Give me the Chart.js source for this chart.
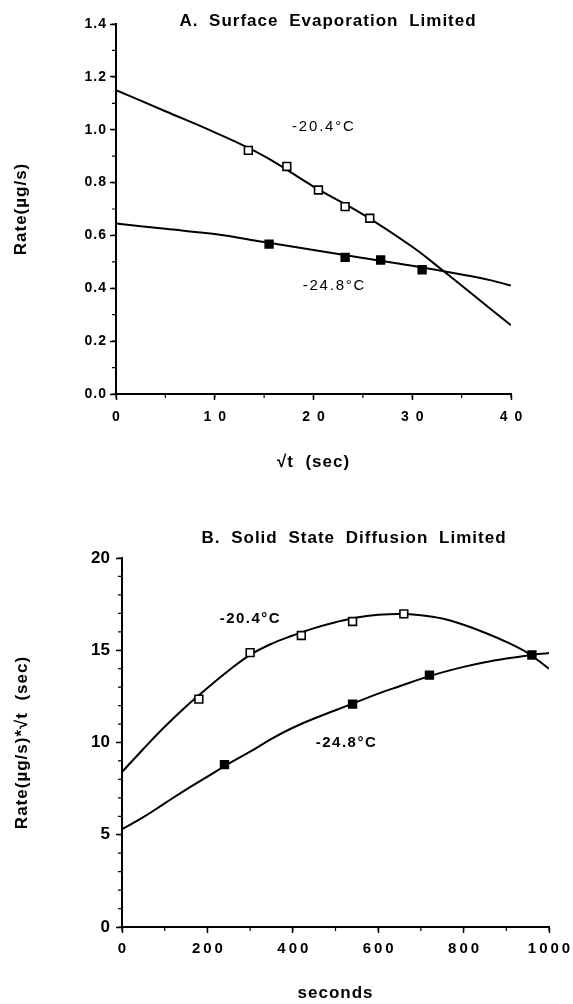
<!DOCTYPE html>
<html>
<head>
<meta charset="utf-8">
<title>Surface evaporation / solid state diffusion</title>
<script src="https://cdn.jsdelivr.net/npm/chart.js@4.4.1/dist/chart.umd.min.js"></script>
<style>
  body { margin: 0; background: #fff; }
  canvas { display: block; }
</style>
</head>
<body>
<canvas id="chartA" width="573" height="480"></canvas>
<canvas id="chartB" width="573" height="524"></canvas>
<script>
// ---- A. rate vs sqrt(t) ----
const sqrtT_warm = [13.4, 17.3, 20.5, 23.2, 25.7];
const rate_warm = [0.922, 0.861, 0.772, 0.709, 0.665];
const sqrtT_cold = [15.5, 23.2, 26.8, 31.0];
const rate_cold = [0.567, 0.517, 0.507, 0.470];

// fitted curves
const fitA_warm_x = [0, 5, 10, 15, 20, 25, 30, 33, 36, 40];
const fitA_warm_y = [1.15, 1.07, 0.99, 0.90, 0.785, 0.68, 0.557, 0.47, 0.38, 0.26];
const fitA_cold_x = [0, 5, 10, 15, 20, 25, 30, 35, 38, 40];
const fitA_cold_y = [0.645, 0.625, 0.605, 0.575, 0.545, 0.515, 0.485, 0.452, 0.43, 0.41];

// ---- B. rate*sqrt(t) vs t ----
const t_warm = [180, 300, 420, 540, 660];
const rateSqrt_warm = [12.35, 14.87, 15.8, 16.56, 16.97];
const t_cold = [240, 540, 720, 960];
const rateSqrt_cold = [8.8, 12.08, 13.65, 14.74];

const fitB_x = [0, 50, 100, 150, 200, 250, 300, 350, 400, 450, 500, 550, 600, 650, 700, 750, 800, 850, 900, 950, 1000];
const fitB_warm_y = [8.4, 9.65, 10.85, 11.95, 12.95, 13.9, 14.75, 15.35, 15.8, 16.2, 16.52, 16.78, 16.92, 16.97, 16.9, 16.72, 16.38, 15.95, 15.45, 14.85, 14.0];
const fitB_cold_y = [5.3, 5.95, 6.7, 7.45, 8.15, 8.85, 9.5, 10.2, 10.8, 11.3, 11.75, 12.2, 12.65, 13.05, 13.45, 13.8, 14.1, 14.35, 14.55, 14.72, 14.85];

const warmLabel = '-20.4°C';
const coldLabel = '-24.8°C';

const FONT = '"Liberation Sans", Arial, Helvetica, sans-serif';
Chart.defaults.font.family = FONT;
Chart.defaults.color = '#000';

const pts = (xs, ys) => xs.map((x, i) => ({ x: x, y: ys[i] }));

// small ticks between the labelled ones
const minorTicks = {
    id: 'minorTicks',
    afterDraw(chart, args, opts) {
        const { ctx, chartArea } = chart;
        const { x, y } = chart.scales;
        ctx.save();
        ctx.strokeStyle = '#000';
        ctx.lineWidth = 1.2;
        ctx.beginPath();
        const ny = Math.round((y.max - y.min) / opts.y);
        for (let i = 0; i <= ny; i++) {
            const p = y.getPixelForValue(y.min + i * opts.y);
            ctx.moveTo(chartArea.left - 4, p);
            ctx.lineTo(chartArea.left, p);
        }
        const nx = Math.round((x.max - x.min) / opts.x);
        for (let i = 0; i <= nx; i++) {
            const p = x.getPixelForValue(x.min + i * opts.x);
            ctx.moveTo(p, chartArea.bottom);
            ctx.lineTo(p, chartArea.bottom + 4);
        }
        ctx.stroke();
        ctx.restore();
    }
};

// letter spacing for tick labels / axis titles (typewriter look of the original)
const spacing = {
    id: 'spacing',
    afterLayout(chart, args, opts) {
        Object.entries(chart.scales).forEach(([id, s]) => {
            if (s._spaced) return;
            const px = opts[id] || 0;
            const tp = opts.title || 0;
            const drawLabels = s.drawLabels;
            const drawTitle = s.drawTitle;
            s.drawLabels = function (area) {
                const c = this.ctx;
                c.save();
                c.letterSpacing = px + 'px';
                drawLabels.call(this, area);
                c.restore();
            };
            s.drawTitle = function () {
                const c = this.ctx;
                c.save();
                c.letterSpacing = tp + 'px';
                drawTitle.call(this);
                c.restore();
            };
            s._spaced = true;
        });
    }
};

// chart heading + curve labels
const annotate = {
    id: 'annotate',
    afterDraw(chart, args, opts) {
        const { ctx } = chart;
        const { x, y } = chart.scales;
        ctx.save();
        ctx.fillStyle = '#000';
        ctx.textAlign = 'center';
        ctx.textBaseline = 'alphabetic';
        ctx.font = 'bold 17px ' + FONT;
        ctx.letterSpacing = '1px';
        ctx.wordSpacing = '5px';
        ctx.fillText(opts.title, opts.titleX, opts.titleY);
        ctx.wordSpacing = '0px';
        ctx.textBaseline = 'middle';
        opts.labels.forEach(l => {
            ctx.font = (l.bold ? 'bold ' : '') + '15px ' + FONT;
            ctx.letterSpacing = l.spacing + 'px';
            ctx.fillText(l.text, x.getPixelForValue(l.x) + l.spacing / 2, y.getPixelForValue(l.y));
        });
        ctx.restore();
    }
};

function axis(opts) {
    return {
        type: 'linear',
        min: opts.min,
        max: opts.max,
        afterFit: opts.fit,
        border: { display: true, color: '#000', width: 2 },
        grid: { drawOnChartArea: false, drawTicks: true, tickLength: 6, tickColor: '#000', tickWidth: 1.5 },
        ticks: {
            stepSize: opts.step,
            padding: opts.pad,
            labelOffset: opts.offset || 0,
            color: '#000',
            font: { size: opts.size, weight: 'bold' },
            callback: opts.format
        },
        title: {
            display: true,
            text: opts.title,
            color: '#000',
            font: { size: 17, weight: 'bold' },
            padding: opts.titlePad
        }
    };
}

const markerWarm = { pointStyle: 'rect', pointRadius: 5.5, pointBackgroundColor: '#fff', pointBorderColor: '#000', pointBorderWidth: 1.6, showLine: false, order: 0 };
const markerCold = { pointStyle: 'rect', pointRadius: 5.5, pointBackgroundColor: '#000', pointBorderColor: '#000', pointBorderWidth: 1.6, showLine: false, order: 0 };
const curve = { showLine: true, pointRadius: 0, borderColor: '#000', borderWidth: 2, tension: 0.4, order: 1 };

// ---- chart A ----
new Chart(document.getElementById('chartA'), {
    type: 'scatter',
    data: {
        datasets: [
            Object.assign({ label: warmLabel, data: pts(sqrtT_warm, rate_warm) }, markerWarm),
            Object.assign({ label: coldLabel, data: pts(sqrtT_cold, rate_cold) }, markerCold),
            Object.assign({ label: warmLabel + ' fit', data: pts(fitA_warm_x, fitA_warm_y) }, curve),
            Object.assign({ label: coldLabel + ' fit', data: pts(fitA_cold_x, fitA_cold_y) }, curve)
        ]
    },
    options: {
        responsive: false,
        animation: false,
        layout: { padding: { top: 24, right: 62, left: 0, bottom: 0 } },
        plugins: {
            legend: { display: false },
            tooltip: { enabled: false },
            minorTicks: { x: 5, y: 0.1 },
            spacing: { x: 7, y: 1, title: 1 },
            annotate: {
                title: 'A. Surface Evaporation Limited',
                titleX: 328, titleY: 26,
                labels: [
                    { text: warmLabel, x: 20.96, y: 1.011, bold: false, spacing: 1.8 },
                    { text: coldLabel, x: 22.03, y: 0.409, bold: false, spacing: 1.8 }
                ]
            }
        },
        scales: {
            x: axis({ min: 0, max: 40, step: 10, pad: 9, offset: 3.5, size: 14,
                fit: s => { s.height = 86; }, format: v => v,
                title: '√t  (sec)', titlePad: { bottom: 7 } }),
            y: axis({ min: 0, max: 1.4, step: 0.2, pad: 3, size: 14,
                fit: s => { s.width = 116; }, format: v => v.toFixed(1),
                title: 'Rate(µg/s)', titlePad: { top: 11 } })
        }
    },
    plugins: [minorTicks, spacing, annotate]
});

// ---- chart B ----
new Chart(document.getElementById('chartB'), {
    type: 'scatter',
    data: {
        datasets: [
            Object.assign({ label: warmLabel, data: pts(t_warm, rateSqrt_warm) }, markerWarm),
            Object.assign({ label: coldLabel, data: pts(t_cold, rateSqrt_cold) }, markerCold),
            Object.assign({ label: warmLabel + ' fit', data: pts(fitB_x, fitB_warm_y) }, curve),
            Object.assign({ label: coldLabel + ' fit', data: pts(fitB_x, fitB_cold_y) }, curve)
        ]
    },
    options: {
        responsive: false,
        animation: false,
        layout: { padding: { top: 78, right: 24, left: 0, bottom: 0 } },
        plugins: {
            legend: { display: false },
            tooltip: { enabled: false },
            minorTicks: { x: 100, y: 1 },
            spacing: { x: 3, y: 0, title: 1 },
            annotate: {
                title: 'B. Solid State Diffusion Limited',
                titleX: 354, titleY: 63,
                labels: [
                    { text: warmLabel, x: 299, y: 16.7, bold: true, spacing: 1.5 },
                    { text: coldLabel, x: 524, y: 9.97, bold: true, spacing: 1.5 }
                ]
            }
        },
        scales: {
            x: axis({ min: 0, max: 1000, step: 200, pad: 7, offset: 1.5, size: 15,
                fit: s => { s.height = 77; }, format: v => v,
                title: 'seconds', titlePad: { bottom: 0 } }),
            y: axis({ min: 0, max: 20, step: 5, pad: 6, size: 17,
                fit: s => { s.width = 122; }, format: v => v,
                title: 'Rate(µg/s)*√t  (sec)', titlePad: { top: 12 } })
        }
    },
    plugins: [minorTicks, spacing, annotate]
});
</script>
</body>
</html>
